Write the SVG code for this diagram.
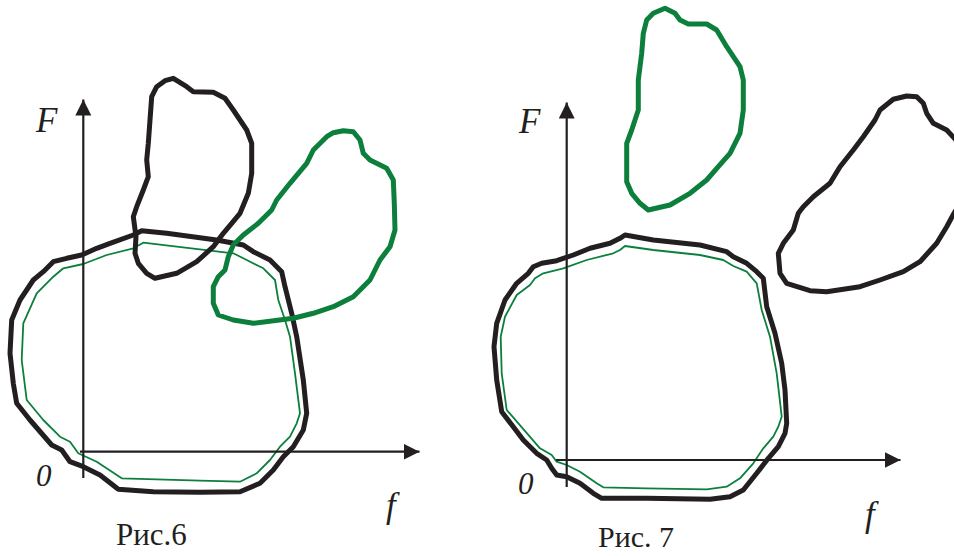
<svg xmlns="http://www.w3.org/2000/svg" width="954" height="556" viewBox="0 0 954 556">
<defs>
<marker id="arr" markerUnits="userSpaceOnUse" markerWidth="17" markerHeight="17" refX="16" refY="8" orient="auto">
<path d="M0,0 L16,8 L0,16 Z" fill="#231f20"/>
</marker>
<style>
.thick{fill:none;stroke:#231f20;stroke-width:5;stroke-linejoin:round;stroke-linecap:round}
.gthick{fill:none;stroke:#0b7f3b;stroke-width:5;stroke-linejoin:round;stroke-linecap:round}
.gthin{fill:none;stroke:#0b7f3b;stroke-width:1.8;stroke-linejoin:round}
.axis{fill:none;stroke:#231f20;stroke-width:2.2;marker-end:url(#arr)}
text{font-family:Liberation Serif, Times New Roman, serif;fill:#231f20}
.it{font-style:italic}
</style>
</defs>
<rect width="954" height="556" fill="#fff"/>

<g id="fig6">
<g id="fig6-region-big">
<polygon class="thick" points="141.7,230.7 166.7,233.3 216.7,240 243.3,245 253.3,251.7 270,260 281.7,271.7 285,286.7 291.7,313.3 296.7,336.7 303.3,380 306.7,413.3 303.3,430 293.3,446.7 283.3,456.7 273.3,470 260,483.3 240,491.7 200,492.3 153.3,491.7 118.3,489.3 100,475 83.3,466.7 70,461.7 61.7,450 51.7,445 30,420 16.7,403.3 13.3,383.3 10,353.3 11.7,320 20,300 33.3,280 43.3,271.7 53.3,261.7 66.7,258.3 81.7,255 96.7,248.3 110,243.3 133.3,235"/>
<polygon class="gthin" points="143.3,242.7 233.3,253.3 243.3,258.3 263.3,268.3 275,280 278.3,300 285,320 290,336.7 295,373.3 300,413.3 296.7,423.3 290,436.7 280,446.7 270,460 256.7,473.3 240,481.7 200,480.7 121.7,478.3 96.7,461.7 78.3,453.3 70,441.7 60,436.7 43.3,420 26.7,400 21.7,360 23.3,323.3 36.7,293.3 53.3,276.7 63.3,268.3 83.3,264 106.7,255 133.3,248.3"/>
</g>
<g id="fig6-blob-black">
<polygon class="thick" points="173.3,78.3 186.7,86.7 193.3,91.7 213.3,92.3 225,98.3 233.3,110 246.7,130 251.7,143.3 251.7,173.3 248.3,193.3 240,213.3 231.7,223.3 223.3,233.3 213.3,246.7 196.7,261.7 176.7,273.3 155,278.3 146.7,273.3 138.3,263.3 135,253.3 136,236.7 133.3,216.7 136.7,206.7 143.3,190 148.3,176.7 146.7,160 148.3,143.3 150,120 151.7,96.7 156.7,86.7 165,80.7"/>
</g>
<g id="fig6-blob-green">
<polygon class="gthick" points="343.3,130.7 353.3,131.7 360,140 363.3,153.3 370,160 386.7,168.3 393.3,180 394.3,203.3 395,230 390,246.7 380,260 370,280 353.3,296.7 333.3,306.7 313.3,313.3 293.3,318.3 253.3,323.3 233.3,320 218.3,315 213.3,303.3 213.3,286.7 218.3,276.7 225,270 228.3,256.7 233.3,245 243.3,235 258.3,223.3 271.7,210 276.7,200 290,183.3 306.7,163.3 313.3,150 326.7,136.7 333.3,132.7"/>
</g>
<g id="fig6-axes">
<line class="axis" x1="83.3" y1="478" x2="83.3" y2="99.5"/>
<line class="axis" x1="80" y1="451.7" x2="419.5" y2="451.7"/>
</g>
<text class="it" x="36" y="132" font-size="35">F</text>
<text class="it" x="36" y="486" font-size="31">0</text>
<text class="it" x="386" y="517" font-size="35">f</text>
<text x="116" y="545" font-size="31">Рис.6</text>
</g>

<g id="fig7">
<g id="fig7-region-big">
<polygon class="thick" points="625,235 653.3,240 700,245 726.7,251.7 733.3,256.7 746.7,263.3 756.7,271.7 763.3,278.3 766.7,306.7 775,333.3 781.7,363.3 785,390 786.7,423.3 785,433.3 778.3,446.7 768.3,458.3 756.7,473.3 743.3,490 730,496.7 710,499.3 646.7,498.3 601.7,498.3 593.3,493.3 580,483.3 566.7,476.7 556.7,475 551.7,468.3 546.7,460 536.7,453.3 523.3,440 501.7,411.7 496.7,380 494,346.7 496.7,323.3 505,300 516.7,283.3 528.3,273.3 533.3,266.7 541.7,263.3 556.7,260.7 573.3,255 590,248.3 610,243.3 620,238.3"/>
<polygon class="gthin" points="625,246 653.3,250 700,255 723.3,260 733.3,266 746.7,271.7 756.7,283.3 761.7,310 770,336.7 776.7,373.3 781.7,416.7 778.3,426.7 773.3,436.7 763.3,448.3 753.3,463.3 740,478.3 726.7,486.7 706.7,489.3 646.7,488.3 603.3,487.3 596.7,483.3 580,471.7 566.7,465 556.7,461.7 551.7,455 540,448.3 506.7,410 501.7,373.3 500.7,336.7 505,316.7 516.7,295 530,285 535,278.3 543.3,273.3 563.3,268.3 586.7,260 613.3,253.3 620,250"/>
</g>
<g id="fig7-blob-green">
<polygon class="gthick" points="665,8.3 675,13.3 680,20 688.3,24 706.7,24 716.7,30 726.7,46.7 740,66.7 743.3,80 743.3,110 740,133.3 730,153.3 718.3,166.7 706.7,180 690,193.3 670,205 648.3,210 640,203.3 631.7,193.3 626.7,181.7 626.7,156.7 626.7,143.3 631.7,130 638.3,110 638.3,80 641.7,53.3 643.3,33.3 646.7,20 653.3,13.3"/>
</g>
<g id="fig7-blob-black">
<polygon class="thick" points="906.7,96 916.7,96.7 923.3,103.3 926.7,113.3 933.3,123.3 946.7,130 956,140 962,170 962,200 954,213.3 946.7,226.7 936.7,243.3 920,261.7 903.3,271.7 880,280 860,286.7 826.7,291.7 810,290.7 786.7,283.3 780,273.3 778.3,253.3 783.3,243.3 793.3,230 798.3,213.3 803.3,206.7 813.3,196.7 830,183.3 840,166.7 853.3,150 863.3,136.7 875,120 880,110 893.3,99.3"/>
</g>
<g id="fig7-axes">
<line class="axis" x1="566.7" y1="487" x2="566.7" y2="102.5"/>
<line class="axis" x1="556" y1="460" x2="900.5" y2="460"/>
</g>
<text class="it" x="519" y="133" font-size="35">F</text>
<text class="it" x="518" y="494" font-size="31">0</text>
<text class="it" x="865" y="526" font-size="35">f</text>
<text x="598" y="547" font-size="30">Рис. 7</text>
</g>
</svg>
